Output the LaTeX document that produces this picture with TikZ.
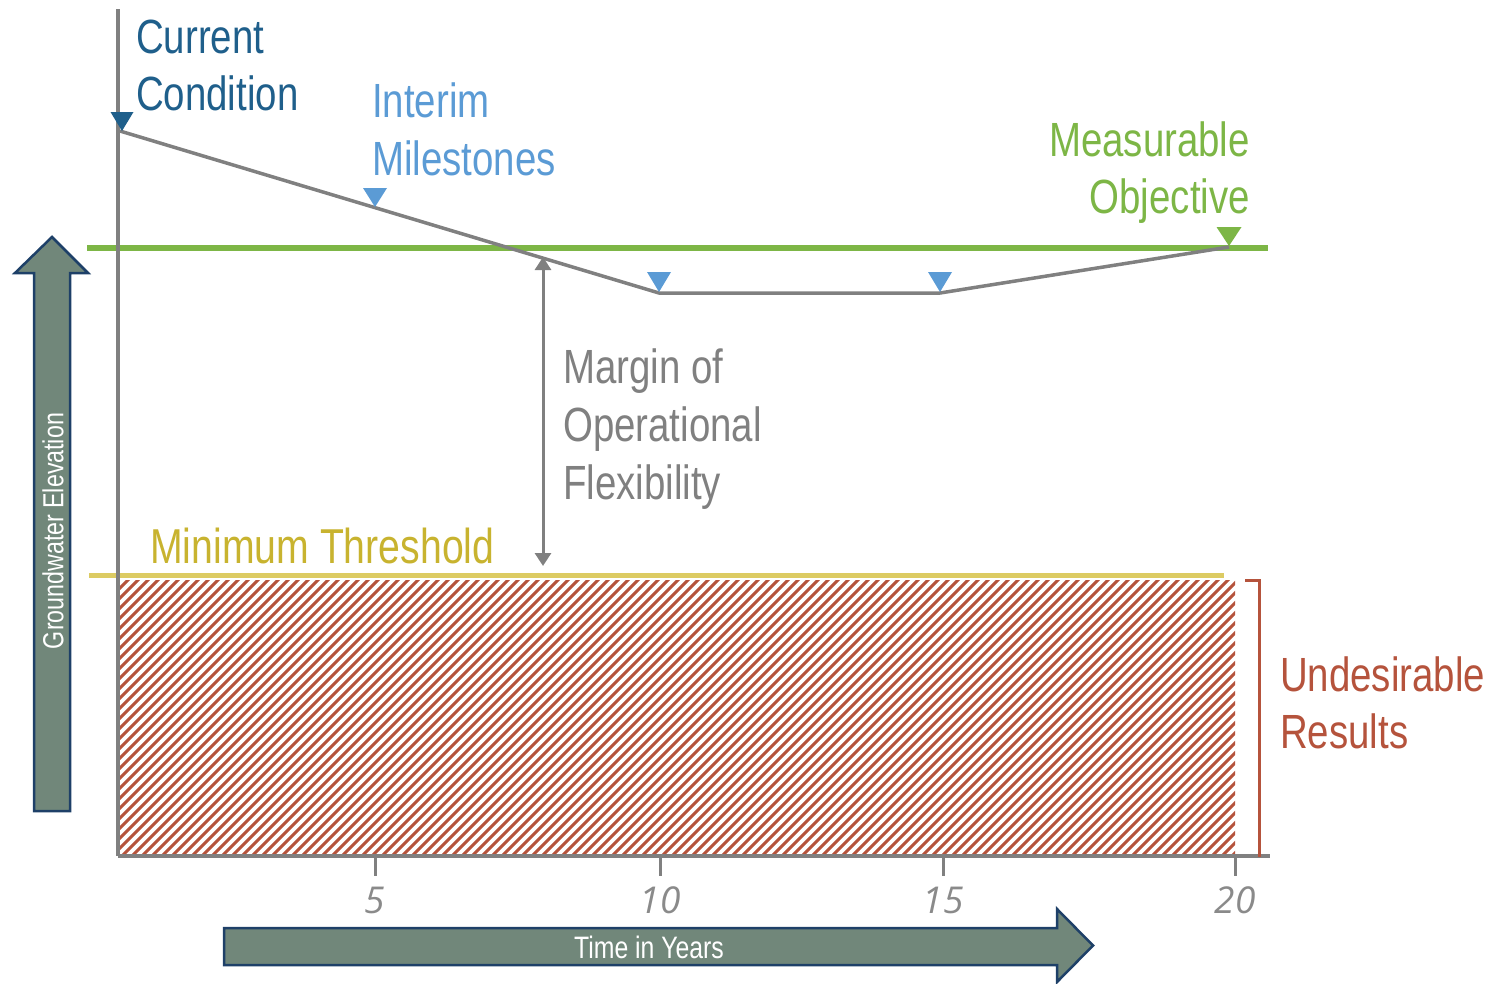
\documentclass[tikz,border=0pt]{standalone}
\usepackage{fontspec}
\setmainfont{Liberation Sans}[FakeStretch=0.8]
\newfontfamily\ticklabelfont{Open Sans}
\usetikzlibrary{arrows.meta}

\definecolor{curblue}{HTML}{1F5F8B}
\definecolor{milblue}{HTML}{5B9BD5}
\definecolor{objgreen}{HTML}{7DB646}
\definecolor{trgray}{HTML}{808080}
\definecolor{thryellow}{HTML}{DCCB63}
\definecolor{thrtext}{HTML}{C8B32F}
\definecolor{undred}{HTML}{B5533C}
\definecolor{arrfill}{HTML}{71877A}
\definecolor{arrline}{HTML}{1E4068}
\definecolor{tickgray}{HTML}{8A8A8A}

\tikzset{
  lbl/.style={inner sep=0pt, anchor=base west, font=\fontsize{48}{57}\selectfont},
  lblr/.style={lbl, anchor=base east},
  axisline/.style={draw=trgray, line width=3.5pt},
  trajectory/.style={draw=trgray, line width=3.5pt, line join=round},
  blockarrow/.style={fill=arrfill, draw=arrline, line width=2.5pt, line join=miter},
  ticktext/.style={inner sep=0pt, text=tickgray, font=\fontsize{37}{40}\ticklabelfont\itshape},
}

\begin{document}
\begin{tikzpicture}[x=1pt, y=-1pt]
\useasboundingbox (0,0) rectangle (1494,983);

% ---- undesirable-results zone (hatched) ----
\begin{scope}
  \clip (118,580) rectangle (1235,854);
  \foreach \i in {-290,-280,...,1130} {
    \draw[undred, line width=3pt] (118+\i,860) -- ++(290,-290);
  }
\end{scope}

% ---- objective and threshold levels ----
\coordinate (objL) at (87,248);
\coordinate (objR) at (1268,248);
\draw[objgreen, line width=5.5pt] (objL) -- (objR);
\coordinate (thrL) at (89,575);
\coordinate (thrR) at (1224,575);
\draw[thryellow, line width=5pt] (thrL) -- (thrR);

% ---- axes ----
\coordinate (yTop) at (118,9);
\coordinate (origin) at (118,856);
\coordinate (xEnd) at (1270,856);
\draw[axisline] (yTop) -- (origin);
\draw[axisline, line width=4.5pt] (origin) -- (xEnd);
\foreach \x/\lab in {375/5, 660/10, 943/15, 1235/20} {
  \coordinate (tk\lab) at (\x,856);
  \draw[trgray, line width=3pt] (tk\lab) -- ++(0,20);
  \node[ticktext] (tl\lab) at (\x,900) {\lab};
}

% ---- groundwater trajectory ----
\coordinate (p0) at (120,131);
\coordinate (p5) at (375,207);
\coordinate (p10) at (659,293);
\coordinate (p15) at (940,293);
\coordinate (p20) at (1229,247);
\draw[trajectory] (p0) -- (p10) -- (p15) -- (p20);

% ---- markers (downward triangles, tip on the line) ----
\fill[curblue] (122,131) -- ++(-11.5,-19) -- ++(23,0) -- cycle;
\fill[milblue] (p5) -- ++(-12,-19) -- ++(24,0) -- cycle;
\fill[milblue] (659,292) -- ++(-12,-20) -- ++(24,0) -- cycle;
\fill[milblue] (940,292) -- ++(-12,-20) -- ++(24,0) -- cycle;
\fill[objgreen] (1229,246) -- ++(-12.5,-19) -- ++(25,0) -- cycle;

% ---- margin of operational flexibility ----
\coordinate (mTop) at (543,257);
\coordinate (mBot) at (543,566);
\draw[trgray, line width=3pt, {Triangle[length=13pt,width=16pt]}-{Triangle[length=13pt,width=16pt]}] (mTop) -- (mBot);

% ---- undesirable results bracket ----
\coordinate (bTop) at (1245,580);
\coordinate (bBot) at (1259,857);
\draw[undred, line width=3pt] (bTop) -| (bBot);

% ---- labels ----
\node[lbl, text=curblue] (cur1) at (136,53) {Current};
\node[lbl, text=curblue] (cur2) at (136,110) {Condition};
\node[lbl, text=milblue] (mil1) at (372,117) {Interim};
\node[lbl, text=milblue] (mil2) at (372,175) {Milestones};
\node[lblr, text=objgreen] (obj1) at (1250,156) {Measurable};
\node[lblr, text=objgreen] (obj2) at (1250,213) {Objective};
\node[lbl, text=trgray] (mar1) at (563,383) {Margin of};
\node[lbl, text=trgray] (mar2) at (563,441) {Operational};
\node[lbl, text=trgray] (mar3) at (563,499) {Flexibility};
\node[lbl, text=thrtext, font=\fontsize{49}{57}\selectfont] (thr) at (150,563) {Minimum Threshold};
\node[lbl, text=undred] (und1) at (1280,691) {Undesirable};
\node[lbl, text=undred] (und2) at (1280,748) {Results};

% ---- block arrows ----
\draw[blockarrow] (52,237) -- (88,273) -- (70,273) -- (70,811) -- (34,811) -- (34,273) -- (15,273) -- cycle;
\node[inner sep=0pt, text=white, rotate=90, font=\fontsize{29}{32}\selectfont] (gwe) at (53,531) {Groundwater Elevation};
\draw[blockarrow] (1093,945.5) -- (1057,982) -- (1057,965) -- (224,965) -- (224,928) -- (1057,928) -- (1057,909) -- cycle;
\node[inner sep=0pt, text=white, font=\fontsize{31}{34}\selectfont] (tiy) at (649,947) {Time in Years};
\end{tikzpicture}
\end{document}
